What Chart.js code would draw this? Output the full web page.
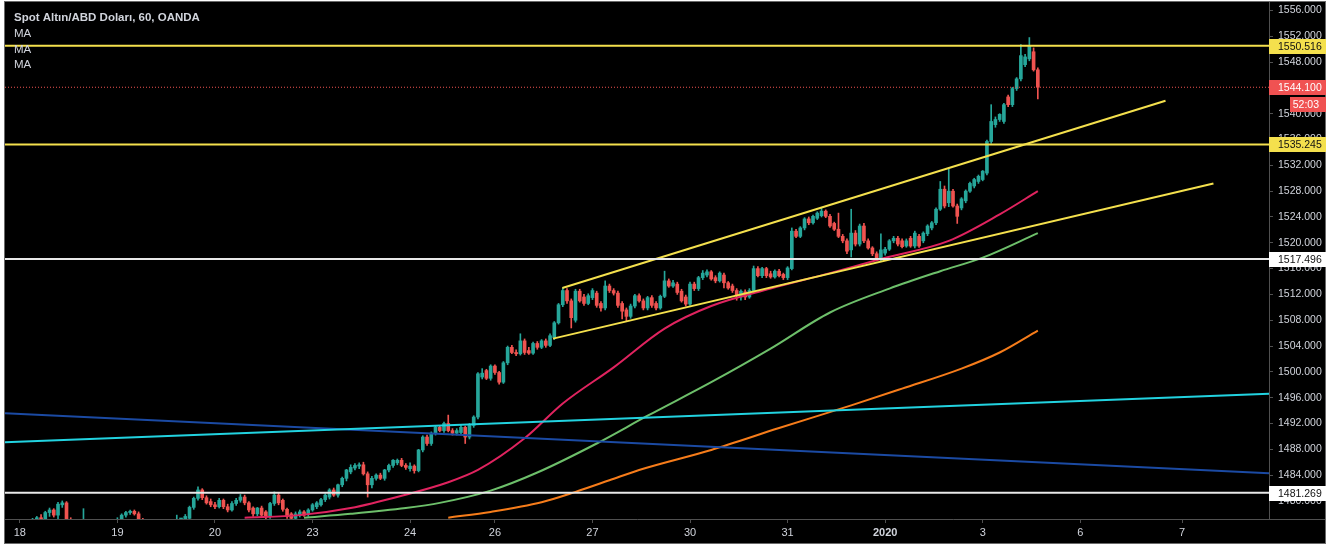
<!DOCTYPE html>
<html>
<head>
<meta charset="utf-8">
<script src="https://cdn.jsdelivr.net/npm/chart.js@4.4.0/dist/chart.umd.min.js"></script>
<style>
  html, body { margin: 0; padding: 0; background: #fff; }
  #wrap { width: 1332px; height: 546px; }
</style>
</head>
<body>
<div id="wrap"><canvas id="goldChart" width="1332" height="546"></canvas></div>
<script>
// time axis: one slot per hourly candle, day labels sit on the first candle of the day
const slotCount = 298;
const dayTickIdx = [3, 26, 49, 72, 95, 115, 138, 161, 184, 207, 230, 253, 277];
const dayLabels = ['18', '19', '20', '23', '24', '26', '27', '30', '31', '2020', '3', '6', '7'];
const priceTicks = [1480, 1484, 1488, 1492, 1496, 1500, 1504, 1508, 1512, 1516,
  1520, 1524, 1528, 1532, 1536, 1540, 1544, 1548, 1552, 1556];

// hourly candles, XAU/USD (OANDA)
const opens = [
  1475.5,1475.9,1475.4,1476.0,1475.7,1476.2,1476.4,1476.9,1477.4,1477.2,
  1478.2,1478.6,1477.8,1479.4,1479.7,1477.0,1476.4,1476.0,1475.6,1476.2,
  1475.8,1475.3,1475.8,1475.5,1476.0,1476.6,1476.2,1477.1,1477.8,1478.2,
  1478.4,1478.0,1477.0,1476.3,1475.9,1476.3,1476.0,1475.6,1476.1,1476.4,
  1476.7,1476.9,1477.0,1477.3,1479.0,1480.4,1481.7,1480.5,1479.9,1479.4,
  1479.1,1480.1,1479.1,1478.6,1479.6,1480.1,1480.6,1479.7,1478.9,1478.0,
  1478.9,1478.3,1477.6,1479.6,1480.9,1480.1,1478.7,1478.0,1477.3,1477.8,
  1478.3,1477.9,1478.6,1479.1,1479.4,1480.2,1480.6,1481.7,1480.9,1482.5,
  1483.5,1484.5,1485.1,1485.4,1485.6,1484.2,1482.5,1483.5,1484.0,1483.5,
  1484.8,1485.5,1485.9,1486.3,1485.5,1485.0,1485.4,1484.7,1487.9,1489.9,
  1488.9,1490.5,1491.4,1490.9,1492.0,1490.9,1490.5,1490.6,1491.4,1489.9,
  1491.7,1493.0,1499.2,1500.2,1499.0,1500.9,1499.9,1498.4,1501.4,1503.8,
  1503.0,1502.8,1504.8,1503.3,1502.9,1504.4,1503.8,1504.8,1504.1,1505.3,
  1507.6,1510.4,1512.6,1511.0,1508.0,1512.5,1511.6,1510.6,1511.5,1512.2,
  1510.6,1509.9,1513.3,1512.6,1512.2,1510.6,1509.6,1508.6,1510.2,1511.8,
  1511.0,1509.9,1511.5,1510.6,1509.9,1511.7,1514.1,1513.3,1513.6,1512.5,
  1511.6,1510.5,1513.6,1512.9,1514.6,1515.0,1515.5,1514.6,1514.1,1515.0,
  1513.8,1513.3,1512.6,1511.6,1512.4,1511.6,1512.6,1516.0,1514.9,1516.0,
  1515.2,1514.7,1515.6,1515.1,1514.6,1516.0,1521.8,1521.0,1522.3,1523.7,
  1523.1,1523.8,1524.2,1524.9,1524.1,1523.0,1522.1,1521.0,1520.3,1518.9,
  1521.5,1519.8,1522.6,1520.3,1519.2,1518.3,1517.5,1518.4,1519.0,1520.3,
  1520.7,1520.3,1519.5,1520.7,1519.5,1521.0,1520.3,1521.4,1522.3,1523.1,
  1525.2,1528.3,1526.2,1528.0,1525.7,1525.4,1526.5,1528.0,1528.8,1529.5,
  1529.8,1530.8,1535.7,1538.3,1539.1,1538.8,1542.6,1541.4,1543.9,1545.4,
  1547.6,1548.5,1549.6,1546.8
];
const highs = [
  1476.4,1476.6,1476.2,1476.8,1476.5,1476.9,1477.3,1477.6,1477.9,1478.4,
  1478.9,1478.8,1479.8,1480.0,1479.9,1477.4,1477.0,1476.8,1478.8,1476.9,
  1476.5,1476.1,1476.4,1476.3,1476.9,1477.0,1477.4,1478.0,1478.4,1478.6,
  1478.6,1478.3,1477.3,1476.9,1476.6,1476.8,1476.5,1476.3,1476.7,1477.0,
  1477.8,1477.3,1477.9,1479.2,1480.6,1482.2,1481.9,1480.8,1480.3,1479.8,
  1480.4,1480.3,1479.5,1479.9,1480.4,1481.0,1480.9,1479.9,1479.1,1479.0,
  1479.2,1478.5,1479.8,1481.4,1481.2,1480.3,1478.9,1478.2,1478.3,1478.6,
  1478.5,1478.8,1479.6,1479.9,1480.4,1481.1,1481.9,1482.0,1482.6,1483.7,
  1484.9,1485.6,1485.8,1485.9,1486.0,1484.5,1483.8,1484.2,1484.3,1484.9,
  1485.7,1486.4,1486.5,1486.6,1485.8,1485.9,1485.6,1488.0,1490.1,1490.2,
  1490.7,1491.7,1491.7,1492.2,1493.3,1491.2,1491.2,1491.7,1491.6,1492.0,
  1493.2,1499.9,1500.5,1500.4,1501.1,1501.1,1500.1,1501.6,1504.0,1504.1,
  1503.4,1505.9,1505.1,1503.8,1504.6,1504.7,1505.0,1505.1,1505.9,1507.8,
  1510.6,1513.0,1512.9,1511.3,1512.8,1512.8,1512.0,1512.1,1512.9,1512.5,
  1510.9,1514.1,1513.6,1512.9,1512.5,1510.9,1509.9,1510.5,1512.0,1512.1,
  1511.3,1511.7,1511.8,1510.9,1511.9,1515.6,1514.4,1514.2,1513.9,1512.8,
  1511.9,1513.9,1513.9,1514.8,1515.7,1515.8,1515.7,1514.9,1515.5,1515.3,
  1514.0,1513.6,1512.9,1512.7,1512.7,1512.9,1516.4,1516.3,1516.2,1516.2,
  1515.6,1515.8,1515.9,1515.3,1516.3,1522.3,1522.1,1522.5,1523.9,1524.0,
  1524.3,1524.8,1525.4,1525.1,1524.4,1523.2,1524.6,1521.3,1520.6,1525.2,
  1521.9,1522.9,1523.0,1520.6,1519.4,1518.6,1521.4,1519.3,1520.5,1521.0,
  1521.0,1520.6,1520.6,1521.0,1521.8,1521.3,1521.7,1522.8,1523.3,1525.4,
  1529.5,1528.8,1531.5,1528.3,1526.0,1527.0,1528.2,1529.4,1530.0,1530.5,
  1531.2,1535.9,1541.4,1539.5,1540.0,1541.6,1542.9,1544.1,1545.6,1550.7,
  1549.2,1551.8,1550.2,1547.1
];
const lows = [
  1474.8,1475.2,1474.6,1475.3,1474.9,1475.6,1475.8,1476.3,1476.8,1476.9,
  1477.6,1477.5,1477.2,1479.0,1476.5,1475.8,1475.5,1475.2,1475.0,1475.4,
  1475.0,1474.6,1475.1,1474.9,1475.4,1475.9,1475.8,1476.8,1477.5,1477.9,
  1477.8,1476.8,1475.9,1475.6,1475.2,1475.7,1475.3,1475.0,1475.6,1475.9,
  1476.2,1476.3,1476.6,1476.8,1478.7,1480.1,1480.2,1479.5,1479.1,1478.8,
  1478.9,1478.8,1478.3,1478.4,1479.3,1479.8,1479.4,1478.3,1477.6,1477.7,
  1477.5,1477.0,1477.3,1479.3,1479.4,1478.4,1477.3,1477.0,1477.1,1477.5,
  1477.6,1477.6,1478.4,1478.8,1479.2,1479.9,1480.3,1480.7,1480.6,1482.2,
  1483.1,1484.2,1484.8,1485.0,1484.0,1480.6,1482.0,1483.2,1483.3,1483.2,
  1484.5,1485.2,1485.6,1485.3,1484.9,1484.6,1484.3,1484.5,1487.6,1488.6,
  1488.6,1490.2,1490.7,1490.6,1490.7,1490.2,1490.2,1490.3,1488.9,1489.6,
  1491.4,1492.7,1498.9,1498.8,1498.7,1499.6,1498.1,1498.2,1501.1,1502.8,
  1502.5,1502.6,1502.7,1502.7,1502.7,1503.5,1503.6,1503.8,1503.9,1505.0,
  1507.4,1510.1,1510.6,1506.8,1507.7,1510.8,1510.3,1510.4,1511.2,1510.0,
  1509.4,1509.6,1512.3,1511.9,1510.0,1508.2,1507.9,1508.3,1509.9,1510.8,
  1509.6,1509.6,1510.0,1509.6,1509.7,1511.5,1513.1,1513.1,1512.0,1510.8,
  1510.2,1510.3,1512.6,1512.6,1514.3,1514.7,1514.2,1513.8,1513.9,1513.0,
  1512.8,1512.3,1511.1,1511.1,1511.2,1511.4,1512.3,1514.7,1514.6,1514.6,
  1514.5,1514.5,1514.7,1514.3,1514.3,1515.8,1520.8,1520.8,1522.0,1522.8,
  1522.9,1523.6,1524.0,1523.9,1522.4,1521.9,1520.8,1520.0,1518.3,1517.8,
  1519.5,1519.5,1520.0,1519.0,1518.0,1517.2,1517.1,1518.1,1518.8,1520.0,
  1519.5,1519.2,1519.3,1519.3,1519.2,1519.3,1520.0,1521.1,1522.0,1522.8,
  1525.0,1525.4,1525.6,1525.5,1523.0,1525.1,1526.2,1527.8,1528.5,1529.2,
  1529.6,1530.5,1535.4,1537.9,1538.8,1538.5,1541.1,1541.1,1543.6,1545.1,
  1547.3,1548.2,1546.6,1542.3
];
const closes = [
  1475.9,1475.4,1476.0,1475.7,1476.2,1476.4,1476.9,1477.4,1477.2,1478.2,
  1478.6,1477.8,1479.5,1479.7,1477.0,1476.4,1476.0,1475.6,1476.2,1475.8,
  1475.3,1475.8,1475.5,1476.0,1476.6,1476.2,1477.1,1477.8,1478.2,1478.4,
  1478.0,1477.0,1476.3,1475.9,1476.3,1476.0,1475.6,1476.1,1476.4,1476.7,
  1476.9,1477.0,1477.6,1479.0,1480.4,1481.7,1480.5,1479.7,1479.4,1479.1,
  1480.1,1479.1,1478.6,1479.6,1480.1,1480.6,1479.7,1478.6,1478.0,1478.9,
  1477.8,1477.6,1479.6,1480.9,1479.7,1478.7,1477.6,1477.3,1478.0,1478.3,
  1477.8,1478.6,1479.4,1479.7,1480.2,1480.9,1481.7,1480.9,1482.5,1483.5,
  1484.8,1485.2,1485.5,1485.6,1484.2,1482.5,1483.5,1484.0,1483.5,1484.8,
  1485.5,1486.3,1486.3,1485.5,1485.2,1485.4,1484.7,1487.9,1489.9,1488.9,
  1490.5,1491.4,1490.9,1492.0,1490.9,1490.5,1490.9,1491.4,1489.9,1491.7,
  1493.0,1499.7,1499.8,1499.0,1500.9,1499.9,1498.4,1501.4,1503.8,1503.0,
  1502.8,1504.8,1503.0,1502.9,1504.4,1503.8,1504.8,1504.1,1505.6,1507.6,
  1510.4,1512.6,1511.0,1508.4,1512.5,1511.0,1510.6,1511.8,1512.6,1510.3,
  1509.9,1513.3,1512.6,1512.2,1510.3,1509.4,1508.6,1510.2,1511.8,1511.0,
  1509.9,1511.5,1510.3,1509.9,1511.7,1514.1,1513.3,1513.8,1512.3,1511.0,
  1510.5,1513.6,1512.9,1514.6,1515.3,1515.5,1514.4,1514.1,1515.3,1513.8,
  1513.0,1512.6,1511.8,1512.5,1511.6,1512.6,1516.0,1514.9,1516.0,1514.9,
  1514.7,1515.6,1514.9,1514.6,1516.1,1521.8,1521.0,1522.3,1523.7,1523.1,
  1524.1,1524.6,1524.9,1524.1,1522.6,1522.1,1521.0,1520.3,1518.7,1521.5,
  1519.8,1522.6,1520.3,1519.2,1518.3,1517.5,1518.9,1519.0,1520.3,1520.7,
  1519.8,1519.4,1520.3,1519.5,1521.5,1519.5,1521.5,1522.6,1523.1,1525.2,
  1528.3,1525.7,1528.0,1525.7,1524.1,1526.8,1528.0,1529.2,1529.8,1530.3,
  1531.1,1535.7,1538.8,1539.1,1539.9,1541.4,1541.4,1543.9,1545.4,1549.0,
  1548.8,1550.6,1546.8,1544.1
];

// moving averages (slot index / price)
const maFastIdx = [56, 69, 81, 93, 104, 111, 122, 131, 143, 155, 166, 180, 194, 206, 222, 234, 243];
const maFastVal = [1477.4, 1477.8, 1478.9, 1480.8, 1482.9, 1484.8, 1489.7, 1495.1, 1500.7, 1506.7,
  1510.2, 1512.9, 1515.3, 1517.5, 1520.3, 1524.4, 1528.0];
const maMidIdx = [70, 81, 94, 102, 114, 125, 139, 151, 166, 180, 194, 208, 220, 230, 243];
const maMidVal = [1477.4, 1478.0, 1478.9, 1479.7, 1481.6, 1484.4, 1488.9, 1493.2, 1498.4, 1503.6,
  1509.2, 1512.9, 1515.6, 1517.7, 1521.5];
const maSlowIdx = [104, 114, 126, 134, 142, 149, 166, 182, 199, 211, 225, 234, 243];
const maSlowVal = [1477.4, 1478.3, 1479.8, 1481.4, 1483.2, 1484.8, 1487.9, 1491.3, 1494.8, 1497.4,
  1500.5, 1503.0, 1506.4];

// drawings
const yellowLevels = [1550.516, 1535.245];
const whiteLevels = [1517.496, 1481.269];
const lastPrice = 1544.1;
const countdown = '52:03';
const channelUpper = [[130.9, 1513.0], [273.1, 1542.0]];
const channelLower = [[128.7, 1505.15], [284.4, 1529.2]];
const cyanLine = [[-0.5, 1489.1], [297.5, 1496.6]];
const blueLine = [[-0.5, 1493.6], [297.5, 1484.3]];

const UP = '#26a69a';
const DOWN = '#ef5350';
const YELLOW = '#f4e04d';
const WHITE = '#e8e8e8';
const TEXT = '#d1d4dc';
const AXIS = '#505050';
const FONT = '"Liberation Sans", Arial, sans-serif';

const candleColors = opens.map((o, i) => closes[i] >= o ? UP : DOWN);
const pts = arr => arr.map(p => ({x: p[0], y: p[1]}));
const series = (ix, vals) => ix.map((x, i) => ({x: x, y: vals[i]}));
const xLeft = -0.5, xRight = slotCount - 0.5;
const flat = v => [{x: xLeft, y: v}, {x: xRight, y: v}];

function lineDs(data, color, width, order, extra) {
  return Object.assign({
    type: 'line', data: data, borderColor: color, borderWidth: width,
    pointRadius: 0, fill: false, order: order, clip: 0
  }, extra || {});
}

const smooth = {cubicInterpolationMode: 'monotone'};
const datasets = [
  lineDs(flat(yellowLevels[0]), YELLOW, 2, 1),
  lineDs(flat(yellowLevels[1]), YELLOW, 2, 1),
  lineDs(flat(whiteLevels[0]), WHITE, 2, 1),
  lineDs(flat(whiteLevels[1]), WHITE, 2, 1),
  lineDs(flat(lastPrice), DOWN, 1, 2, {borderDash: [1, 2]}),
  lineDs(pts(channelUpper), YELLOW, 2, 1),
  lineDs(pts(channelLower), YELLOW, 2, 1),
  lineDs(pts(cyanLine), '#22d3e0', 2, 1),
  lineDs(pts(blueLine), '#1b4aa3', 2, 1),
  lineDs(series(maFastIdx, maFastVal), '#e0235f', 2, 3, smooth),
  lineDs(series(maMidIdx, maMidVal), '#6dbf6a', 2, 3, smooth),
  lineDs(series(maSlowIdx, maSlowVal), '#f67c1a', 2, 3, smooth),
  {
    type: 'bar', order: 10, grouped: false, clip: 0,
    data: opens.map((o, i) => ({x: i, y: [lows[i], highs[i]]})),
    backgroundColor: candleColors, barThickness: 1, borderWidth: 0
  },
  {
    type: 'bar', order: 9, grouped: false, clip: 0,
    data: opens.map((o, i) => ({x: i, y: [o, closes[i]]})),
    backgroundColor: candleColors, barThickness: 3, minBarLength: 1, borderWidth: 0
  }
];

function tag(ctx, y, text, bg, fg) {
  ctx.fillStyle = bg;
  ctx.fillRect(1269, Math.round(y) - 7, 57, 15);
  ctx.fillStyle = fg;
  ctx.textAlign = 'left';
  ctx.textBaseline = 'middle';
  ctx.fillText(text, 1278, Math.round(y) + 1);
}

const tvFrame = {
  id: 'tvFrame',
  beforeDraw(chart) {
    const ctx = chart.ctx;
    ctx.save();
    ctx.fillStyle = '#ffffff';
    ctx.fillRect(0, 0, chart.width, chart.height);
    ctx.fillStyle = '#000000';
    ctx.fillRect(5, 2, 1320, 541);
    ctx.restore();
  },
  afterDraw(chart) {
    const ctx = chart.ctx;
    const y = chart.scales.y;
    ctx.save();
    ctx.strokeStyle = AXIS;
    ctx.lineWidth = 1;
    ctx.beginPath();
    ctx.moveTo(1269, 519.5); ctx.lineTo(1325, 519.5);
    ctx.stroke();
    ctx.strokeStyle = '#6a6a6a';
    ctx.strokeRect(4.5, 1.5, 1321, 542);

    // legend
    ctx.fillStyle = TEXT;
    ctx.textAlign = 'left';
    ctx.textBaseline = 'alphabetic';
    ctx.font = 'bold 11.5px ' + FONT;
    ctx.fillText('Spot Altın/ABD Doları, 60, OANDA', 14, 21);
    ctx.font = '11.5px ' + FONT;
    ['MA', 'MA', 'MA'].forEach((t, i) => ctx.fillText(t, 14, 37 + i * 15.5));

    // price tags
    ctx.font = '10.5px ' + FONT;
    yellowLevels.forEach(v => tag(ctx, y.getPixelForValue(v), v.toFixed(3), YELLOW, '#111'));
    whiteLevels.forEach(v => tag(ctx, y.getPixelForValue(v), v.toFixed(3), '#ffffff', '#111'));
    const py = y.getPixelForValue(lastPrice);
    tag(ctx, py, lastPrice.toFixed(3), '#f05252', '#ffffff');
    ctx.fillStyle = '#f05252';
    ctx.fillRect(1290, Math.round(py) + 10, 36, 15);
    ctx.fillStyle = '#ffffff';
    ctx.textAlign = 'right';
    ctx.fillText(countdown, 1319, Math.round(py) + 18);
    ctx.restore();
  }
};

new Chart(document.getElementById('goldChart'), {
  type: 'bar',
  data: {datasets: datasets},
  plugins: [tvFrame],
  options: {
    responsive: false,
    animation: false,
    devicePixelRatio: 1,
    events: [],
    layout: {padding: {left: 5, top: 2, right: 7, bottom: 3}},
    plugins: {legend: {display: false}, tooltip: {enabled: false}},
    scales: {
      x: {
        type: 'linear', offset: false, min: xLeft, max: xRight,
        afterBuildTicks: s => { s.ticks = dayTickIdx.map(v => ({value: v})); },
        afterFit: s => { s.height = 24; s.paddingLeft = 0; s.paddingRight = 0; },
        grid: {offset: false, drawOnChartArea: false, drawTicks: true, tickLength: 4, color: AXIS},
        border: {color: AXIS},
        ticks: {
          autoSkip: false, maxRotation: 0, padding: 3, color: TEXT,
          font: c => ({family: FONT, size: 11, weight: (c.tick && c.tick.value === 207) ? 'bold' : 'normal'}),
          callback: v => dayLabels[dayTickIdx.indexOf(v)]
        }
      },
      y: {
        position: 'right', min: 1477.2, max: 1557.31, beginAtZero: false,
        afterBuildTicks: s => { s.ticks = priceTicks.map(v => ({value: v})); },
        afterFit: s => { s.width = 56; s.paddingTop = 0; s.paddingBottom = 0; },
        grid: {drawOnChartArea: false, drawTicks: true, tickLength: 4, color: AXIS},
        border: {color: AXIS},
        ticks: {
          padding: 5, color: TEXT,
          font: {family: FONT, size: 10.5},
          callback: v => v.toFixed(3)
        }
      }
    }
  }
});
</script>
</body>
</html>
